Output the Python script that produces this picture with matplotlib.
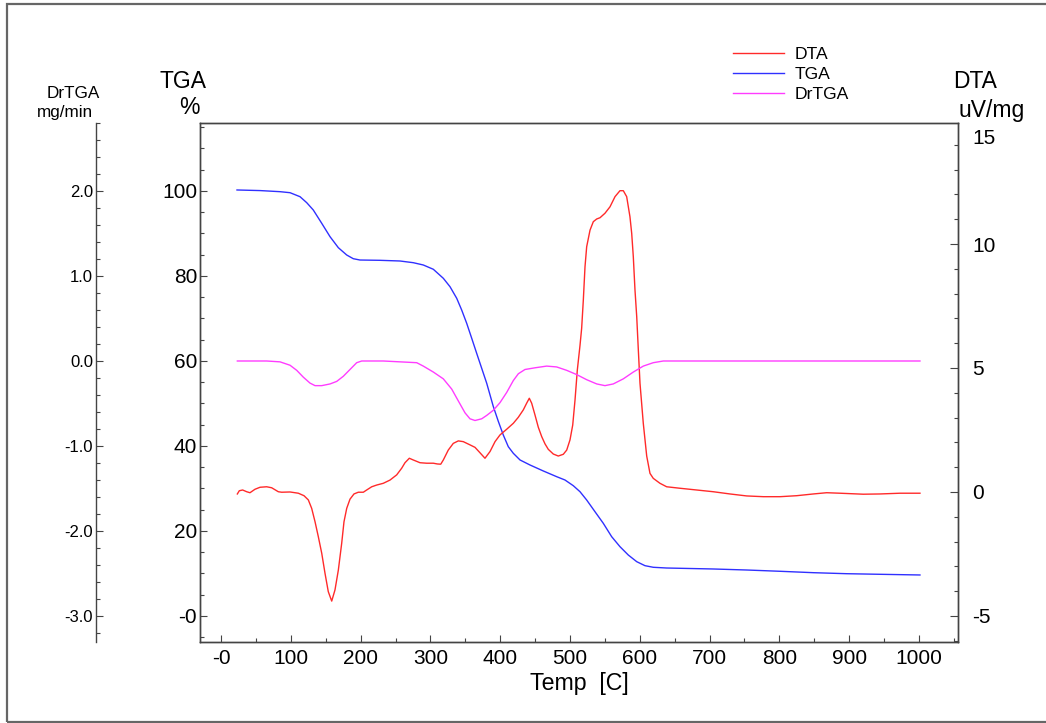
import matplotlib
matplotlib.use("Agg")
import matplotlib.pyplot as plt
from matplotlib.lines import Line2D
from matplotlib.patches import Rectangle
from matplotlib.ticker import FixedLocator, MultipleLocator, FuncFormatter

plt.rcParams['font.family'] = ['Liberation Sans', 'DejaVu Sans']

# ---------------- data ----------------
tga_temp = [22.9, 55.9, 84.5, 98.9, 113.2, 122.8, 132.2, 144.3, 156.2, 168.1, 180.1,
            189.5, 199.1, 227.8, 256.4, 275.5, 289.8, 304.2, 318.5, 328.1, 337.7, 344.8,
            352.0, 359.2, 366.3, 373.5, 380.7, 390.1, 397.3, 404.4, 411.6, 418.8, 428.4,
            442.7, 461.8, 480.9, 492.8, 504.7, 514.3, 523.9, 535.8, 547.7, 559.7, 571.6,
            583.5, 595.6, 607.4, 619.3, 638.5, 705.3, 753.2, 800.9, 848.6, 896.4, 944.1,
            1001.4]
tga_val = [100.24, 100.1, 99.84, 99.6, 98.66, 97.25, 95.53, 92.4, 89.25, 86.66, 84.94,
           84.07, 83.76, 83.69, 83.53, 83.13, 82.59, 81.58, 79.46, 77.48, 74.75, 72.0,
           68.87, 65.34, 61.81, 58.28, 54.75, 49.3, 45.8, 42.6, 39.84, 38.28, 36.71,
           35.53, 34.12, 32.78, 32.0, 30.66, 29.25, 27.29, 24.54, 21.81, 18.66, 16.31,
           14.35, 12.78, 11.84, 11.46, 11.29, 11.06, 10.82, 10.52, 10.19, 9.95, 9.81,
           9.65]

dta_temp = [23.4, 26.2, 31.0, 36.8, 41.5, 48.7, 55.9, 65.4, 72.6, 82.1, 86.9, 98.9,
            110.8, 118.9, 125.1, 129.9, 134.7, 139.4, 144.3, 149.0, 153.7, 158.6, 163.3,
            168.1, 172.9, 176.2, 180.1, 184.8, 190.5, 196.7, 203.9, 208.7, 215.9, 223.1,
            232.5, 242.1, 251.7, 258.9, 263.6, 269.8, 275.5, 285.1, 294.7, 304.2, 309.9,
            314.8, 318.5, 325.6, 332.8, 340.0, 347.1, 356.7, 363.9, 371.1, 378.2, 385.4,
            392.6, 399.7, 409.3, 418.8, 425.9, 433.1, 437.9, 441.7, 445.1, 449.9, 454.6,
            459.5, 464.2, 468.9, 476.1, 483.2, 490.4, 495.3, 500.0, 503.9, 507.2, 510.5,
            514.3, 516.7, 519.1, 521.5, 523.9, 528.7, 533.4, 538.3, 543.0, 550.1, 557.3,
            564.5, 571.6, 576.4, 581.2, 585.9, 588.4, 590.7, 593.1, 595.6, 597.9, 600.3,
            605.0, 609.9, 614.6, 619.3, 628.9, 638.5, 657.6, 681.5, 705.3, 729.2, 753.2,
            777.1, 800.9, 824.8, 848.6, 867.7, 886.8, 920.2, 944.1, 972.8, 1001.4]
dta_val = [-0.08, 0.05, 0.08, 0.01, -0.03, 0.11, 0.19, 0.21, 0.17, 0.01, -0.01, 0.0,
           -0.05, -0.15, -0.32, -0.66, -1.20, -1.80, -2.47, -3.28, -4.02, -4.40, -3.95,
           -3.15, -2.07, -1.20, -0.66, -0.29, -0.08, -0.01, -0.01, 0.08, 0.21, 0.28,
           0.35, 0.48, 0.69, 0.96, 1.18, 1.36, 1.29, 1.18, 1.16, 1.16, 1.13, 1.12, 1.29,
           1.69, 1.96, 2.06, 2.03, 1.90, 1.80, 1.58, 1.36, 1.63, 2.03, 2.30, 2.53, 2.77,
           3.01, 3.31, 3.58, 3.78, 3.58, 3.10, 2.61, 2.23, 1.94, 1.72, 1.53, 1.45, 1.52,
           1.69, 2.10, 2.70, 3.71, 4.92, 5.9, 6.6, 7.74, 9.08, 9.89, 10.56, 10.90, 11.01,
           11.06, 11.24, 11.50, 11.91, 12.15, 12.15, 11.91, 11.10, 10.43, 9.49, 8.15,
           7.07, 5.73, 4.38, 2.77, 1.45, 0.75, 0.55, 0.35, 0.21, 0.15, 0.08, 0.01, -0.08,
           -0.16, -0.19, -0.19, -0.15, -0.08, -0.03, -0.05, -0.09, -0.08, -0.05, -0.05]

drtga_temp = [23.4, 65.4, 84.5, 98.9, 108.5, 117.9, 127.5, 134.7, 144.3, 156.2, 165.8,
              175.2, 184.8, 194.4, 201.6, 232.5, 256.4, 280.4, 289.8, 304.2, 318.5,
              330.5, 340.0, 349.6, 356.7, 363.9, 373.5, 380.7, 390.1, 399.7, 409.3,
              418.8, 426.0, 435.5, 449.9, 466.6, 480.9, 495.3, 509.6, 523.9, 538.3,
              550.1, 562.0, 576.4, 590.7, 605.0, 619.3, 633.7, 1001.4]
drtga_val = [0.0, 0.0, -0.01, -0.05, -0.11, -0.19, -0.26, -0.29, -0.29, -0.27, -0.24,
             -0.18, -0.10, -0.02, 0.0, 0.0, -0.01, -0.02, -0.06, -0.13, -0.21, -0.33,
             -0.47, -0.61, -0.68, -0.70, -0.68, -0.64, -0.58, -0.49, -0.37, -0.23,
             -0.15, -0.10, -0.08, -0.06, -0.07, -0.11, -0.16, -0.22, -0.27, -0.29,
             -0.27, -0.21, -0.13, -0.06, -0.02, 0.0, 0.0]

x_ticks = [0, 100, 200, 300, 400, 500, 600, 700, 800, 900, 1000]
tga_ticks = [0, 20, 40, 60, 80, 100]
dta_ticks = [-5, 0, 5, 10, 15]
drtga_ticks = [-3.0, -2.0, -1.0, 0.0, 1.0, 2.0]

# ---------------- figure ----------------
W, H = 1046, 723
fig = plt.figure(figsize=(W / 100, H / 100), dpi=100)

def fx(px):
    return px / W

def fy(py):
    return 1 - py / H

ax = fig.add_axes([fx(200), fy(642), fx(958) - fx(200), fy(123) - fy(642)])
ax_dta = ax.twinx()
ax_dr = ax.twinx()

spine_col = '#444444'
for a in (ax, ax_dta, ax_dr):
    for s in a.spines.values():
        s.set_color(spine_col)
        s.set_linewidth(1.0)

red, blue, magenta = '#ff2a2a', '#3030ff', '#ff3cff'

# lines
ax_dta.plot(dta_temp, dta_val, color=red, lw=1.0)
ax.plot(tga_temp, tga_val, color=blue, lw=1.0)
ax_dr.plot(drtga_temp, drtga_val, color=magenta, lw=1.0)

# x axis
ax.set_xlim(-30.1, 1055.9)
ax.xaxis.set_major_locator(FixedLocator(x_ticks))
ax.xaxis.set_minor_locator(MultipleLocator(50))
ax.xaxis.set_major_formatter(FuncFormatter(lambda v, p: '-0' if v == 0 else f'{v:.0f}'))
ax.tick_params(axis='x', which='major', direction='in', length=5, width=0.8,
               labelsize=15, pad=5, color=spine_col)
ax.tick_params(axis='x', which='minor', direction='in', length=3, width=0.8, color=spine_col)
ax.set_xlabel('Temp  [C]', fontsize=16.7, labelpad=3)

# TGA axis
ax.set_ylim(-6.12, 116.0)
ax.yaxis.set_major_locator(FixedLocator(tga_ticks))
ax.yaxis.set_minor_locator(MultipleLocator(5))
ax.yaxis.set_major_formatter(FuncFormatter(lambda v, p: '-0' if v == 0 else f'{v:.0f}'))
ax.tick_params(axis='y', which='major', direction='in', length=5, width=0.8,
               labelsize=15, pad=2, color=spine_col)
ax.tick_params(axis='y', which='minor', direction='in', length=3, width=0.8, color=spine_col)

# DTA axis (right)
ax_dta.set_ylim(-6.05, 14.88)
ax_dta.yaxis.set_major_locator(FixedLocator(dta_ticks))
ax_dta.yaxis.set_minor_locator(MultipleLocator(1))
ax_dta.yaxis.set_major_formatter(FuncFormatter(lambda v, p: '' if v == 15 else f'{v:.0f}'))
ax_dta.tick_params(axis='y', which='major', direction='in', length=6, width=0.8,
                   labelsize=15, pad=10, color=spine_col)
ax_dta.tick_params(axis='y', which='minor', direction='in', length=3, width=0.8, color=spine_col)
ax_dta.annotate('15', xy=(1.0, 15), xycoords=('axes fraction', 'data'),
                xytext=(10.5, -13), textcoords='offset points', fontsize=15,
                ha='left', va='center', annotation_clip=False)

# DrTGA axis (outer left)
ax_dr.set_ylim((-6.12 - 60) / 20, (116.0 - 60) / 20)
ax_dr.spines['left'].set_position(('axes', -104 / 758))
ax_dr.spines['left'].set_visible(True)
for k in ('right', 'top', 'bottom'):
    ax_dr.spines[k].set_visible(False)
ax_dr.yaxis.set_ticks_position('left')
ax_dr.yaxis.set_label_position('left')
ax_dr.yaxis.set_major_locator(FixedLocator(drtga_ticks))
ax_dr.yaxis.set_minor_locator(MultipleLocator(0.2))
ax_dr.yaxis.set_major_formatter(FuncFormatter(lambda v, p: f'{v:.1f}'))
ax_dr.tick_params(axis='y', which='major', direction='in', length=5, width=0.8,
                  labelsize=12, pad=2, color=spine_col)
ax_dr.tick_params(axis='y', which='minor', direction='in', length=3, width=0.8, color=spine_col)

# axis titles
fig.text(fx(73), fy(93), 'DrTGA', fontsize=12.3, ha='center', va='center')
fig.text(fx(65), fy(113), 'mg/min', fontsize=12.3, ha='center', va='center')
fig.text(fx(183), fy(82), 'TGA', fontsize=16.5, ha='center', va='center')
fig.text(fx(189), fy(108), '%', fontsize=16.5, ha='center', va='center')
fig.text(fx(975), fy(82), 'DTA', fontsize=16.5, ha='center', va='center')
fig.text(fx(992), fy(110), 'uV/mg', fontsize=16.5, ha='center', va='center')

# legend
handles = [Line2D([], [], color=red, lw=1.0),
           Line2D([], [], color=blue, lw=1.0),
           Line2D([], [], color=magenta, lw=1.0)]
fig.legend(handles, ['DTA', 'TGA', 'DrTGA'], loc='upper left',
           bbox_to_anchor=(fx(733), fy(47)), frameon=False, fontsize=12.6,
           handlelength=2.9, handletextpad=0.63, labelspacing=0.27,
           borderaxespad=0, borderpad=0)

# outer frame
fig.add_artist(Rectangle((fx(7), fy(722)), fx(1060) - fx(7), fy(4) - fy(722),
                         transform=fig.transFigure, fill=False,
                         edgecolor='#666666', lw=1.6))

fig.savefig('out.png', dpi=100)
